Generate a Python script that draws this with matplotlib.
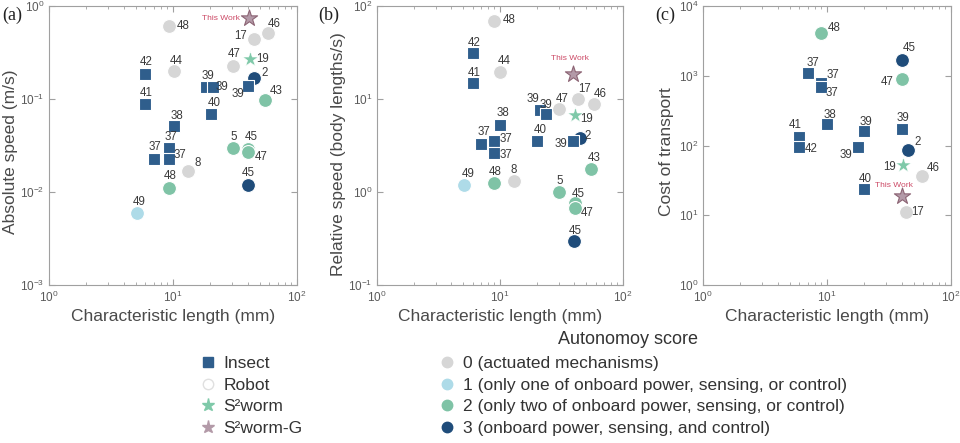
import matplotlib
matplotlib.use("Agg")
import matplotlib.pyplot as plt
from matplotlib.lines import Line2D

plt.rcParams['font.family'] = ['Liberation Sans', 'DejaVu Sans']
plt.rcParams['mathtext.fontset'] = 'custom'
plt.rcParams['mathtext.rm'] = 'Liberation Sans'
plt.rcParams['mathtext.it'] = 'Liberation Sans:italic'

# kinds: i = insect, r = robot (circle), w = S2worm, g = S2worm-G
# score: autonomy score for robots (0..3), -1 otherwise

# ---- (a) absolute speed ----
a_x = [9.2, 41, 58, 44.7, 30.2, 41.5, 6.0, 10.2, 45.2, 18.4, 21.2, 40,
       55.5, 6.0, 20.2, 10.1, 9.2, 7.05, 9.2, 30.2, 40.3, 40.3, 13.2, 40, 9.2, 5.1]
a_y = [0.61, 0.74, 0.51, 0.44, 0.228, 0.267, 0.186, 0.20, 0.17, 0.136, 0.136, 0.138,
       0.098, 0.088, 0.069, 0.051, 0.030, 0.0228, 0.0228, 0.030, 0.029, 0.027, 0.0169,
       0.0119, 0.011, 0.0059]
a_kind = ['r', 'g', 'r', 'r', 'r', 'w', 'i', 'r', 'r', 'i', 'i', 'i',
          'r', 'i', 'i', 'i', 'i', 'i', 'i', 'r', 'r', 'r', 'r', 'r', 'r', 'r']
a_score = [0, -1, 0, 0, 0, -1, -1, 0, 3, -1, -1, -1,
           2, -1, -1, -1, -1, -1, -1, 2, 2, 2, 0, 3, 2, 1]
a_ref = ['48', 'This Work', '46', '17', '47', '19', '42', '44', '2', '39', '39', '39',
         '43', '41', '40', '38', '37', '37', '37', '5', '45', '47', '8', '45', '48', '49']

# ---- (b) relative speed ----
b_x = [9.0, 6.0, 10, 39.3, 6.0, 43.2, 57.8, 30.1, 21, 23.5, 40.6, 10, 45, 39.3,
       20.1, 7.0, 9.0, 9.0, 55.4, 5.1, 9.0, 13, 30.1, 40.6, 40.6, 40]
b_y = [69, 31, 19.7, 18.6, 14.7, 10, 8.8, 7.8, 7.7, 6.9, 6.7, 5.2, 3.8, 3.5,
       3.5, 3.3, 3.5, 2.6, 1.77, 1.19, 1.24, 1.31, 1.0, 0.77, 0.68, 0.30]
b_kind = ['r', 'i', 'r', 'g', 'i', 'r', 'r', 'r', 'i', 'i', 'w', 'i', 'r', 'i',
          'i', 'i', 'i', 'i', 'r', 'r', 'r', 'r', 'r', 'r', 'r', 'r']
b_score = [0, -1, 0, -1, -1, 0, 0, 0, -1, -1, -1, -1, 3, -1,
           -1, -1, -1, -1, 2, 1, 2, 0, 2, 2, 2, 3]
b_ref = ['48', '42', '44', 'This Work', '41', '17', '46', '47', '39', '39', '19', '38', '2', '39',
         '40', '37', '37', '37', '43', '49', '48', '8', '5', '45', '47', '45']

# ---- (c) cost of transport ----
c_x = [9.0, 40, 7.0, 40, 9.0, 9.0, 10, 20, 40, 6.0, 6.0, 17.9, 45.3, 40.8, 58, 20, 40, 43.4]
c_y = [4050, 1660, 1080, 885, 790, 680, 205, 161, 170, 132, 95, 95, 85, 53, 36, 23.9, 19, 11.2]
c_kind = ['r', 'r', 'i', 'r', 'i', 'i', 'i', 'i', 'i', 'i', 'i', 'i', 'r', 'w', 'r', 'i', 'g', 'r']
c_score = [2, 3, -1, 2, -1, -1, -1, -1, -1, -1, -1, -1, 3, -1, 0, -1, -1, 0]
c_ref = ['48', '45', '37', '47', '37', '37', '38', '39', '39', '41', '42', '39', '2', '19',
         '46', '40', 'This Work', '17']

# label offsets (pixels) from each point
a_off = [(15, 0), (-28, 0), (7, 9), (-13, 3), (2, 12), (13, 0), (1, 12), (2, 10), (10, 5),
         (2, 11), (8, 0), (-10, -8), (11, 9), (1, 11), (3, 11), (3, 10), (2, 11), (1, 12),
         (11, 4), (1, 11), (3, 12), (13, -5), (10, 8), (1, 12), (2, 12), (2, 11)]
b_off = [(15, 1), (1, 10), (4, 11), (-3, 15), (1, 10), (6, 10), (7, 10), (3, 10), (-7, 11),
         (0, 9), (12, -4), (3, 12), (7, 2), (-12, -3), (3, 11), (3, 12), (12, 2), (12, -2),
         (3, 11), (4, 11), (1, 11), (0, 11), (1, 11), (3, 9), (12, -5), (1, 10)]
c_off = [(13, 5), (8, 12), (5, 10), (-14, -3), (12, 8), (11, -6), (3, 9), (2, 9), (1, 11),
         (-4, 12), (12, -2), (-12, -8), (9, 8), (-13, -2), (12, 8), (1, 10), (-8, 10), (11, 0)]

score_colors = {0: '#d6d6d6', 1: '#aedbe8', 2: '#7fc3a6', 3: '#1f4c7a'}
insect_color = '#2f5e8c'
worm_color = '#7fc9a9'
wormg_color = '#b39aa8'
label_color = '#3a3a3a'
text_color = '#4a4a4a'
tw_color = '#cc4a66'
spine_color = '#a0a0a0'
fs = 12.5


def draw_panel(ax, xs, ys, kinds, scores, refs, offs):
    for x, y, k, s, r, o in zip(xs, ys, kinds, scores, refs, offs):
        if k == 'i':
            ax.scatter(x, y, marker='s', s=68, color=insect_color, edgecolors='white',
                       linewidths=0.8, zorder=3)
        elif k == 'r':
            ax.scatter(x, y, marker='o', s=100, color=score_colors[s], edgecolors='white',
                       linewidths=0.8, zorder=3)
        elif k == 'w':
            ax.scatter(x, y, marker='*', s=135, color=worm_color, edgecolors='white',
                       linewidths=0.4, zorder=4)
        else:
            ax.scatter(x, y, marker='*', s=150, color=wormg_color, edgecolors='#8c6474',
                       linewidths=0.8, zorder=4)
        if r == 'This Work':
            ax.annotate(r, (x, y), xytext=o, textcoords='offset pixels', ha='center',
                        va='center', fontsize=6, color=tw_color, zorder=5)
        else:
            ax.annotate(r, (x, y), xytext=o, textcoords='offset pixels', ha='center',
                        va='center', fontsize=8.3, color=label_color, zorder=5)


def style_axes(ax, ylim):
    ax.set_xscale('log')
    ax.set_yscale('log')
    ax.set_xlim(1, 100)
    ax.set_ylim(*ylim)
    for sp in ax.spines.values():
        sp.set_color(spine_color)
        sp.set_linewidth(0.8)
    ax.tick_params(which='both', direction='in', top=True, right=True, color=spine_color,
                   labelcolor='#5a5a5a', labelsize=8.5)
    ax.tick_params(which='major', length=4)
    ax.tick_params(which='minor', length=2)
    ax.tick_params(axis='y', which='minor', left=False, right=False)


fig = plt.figure(figsize=(9.6, 4.43), dpi=100)
h = 279 / 443
bot = 1 - 285 / 443
ax1 = fig.add_axes([49 / 960, bot, 248 / 960, h])
ax2 = fig.add_axes([377 / 960, bot, 246 / 960, h])
ax3 = fig.add_axes([703 / 960, bot, 248 / 960, h])

draw_panel(ax1, a_x, a_y, a_kind, a_score, a_ref, a_off)
draw_panel(ax2, b_x, b_y, b_kind, b_score, b_ref, b_off)
draw_panel(ax3, c_x, c_y, c_kind, c_score, c_ref, c_off)

style_axes(ax1, (1e-3, 1))
style_axes(ax2, (1e-1, 1e2))
style_axes(ax3, (1, 1e4))

ylabels = ['Absolute speed (m/s)', 'Relative speed (body lengths/s)', 'Cost of transport']
ylx = [-0.125, -0.126, -0.117]
yly = [0.477, 0.47, 0.477]
for ax, lab, lx, ly in zip([ax1, ax2, ax3], ylabels, ylx, yly):
    ax.set_ylabel(lab, fontsize=fs, color=text_color)
    ax.yaxis.set_label_coords(lx, ly)
    ax.set_xlabel('Characteristic length (mm)', fontsize=fs, color=text_color)
    ax.xaxis.set_label_coords(0.5, -0.085)

fig.text(0.002, 0.955, '(a)', fontsize=13, family='Liberation Serif', color='#222222')
fig.text(0.332, 0.955, '(b)', fontsize=13, family='Liberation Serif', color='#222222')
fig.text(0.683, 0.955, '(c)', fontsize=13, family='Liberation Serif', color='#222222')

# legends
kind_handles = [
    Line2D([], [], linestyle='none', marker='s', markersize=7, color=insect_color),
    Line2D([], [], linestyle='none', marker='o', markersize=7.5, markerfacecolor='white',
           markeredgecolor='#e0e0e0'),
    Line2D([], [], linestyle='none', marker='*', markersize=9.5, color=worm_color),
    Line2D([], [], linestyle='none', marker='*', markersize=9.5, color=wormg_color),
]
kind_labels = ['Insect', 'Robot', 'S\u00b2worm', 'S\u00b2worm-G']
score_handles = [Line2D([], [], linestyle='none', marker='o', markersize=7.5, color=score_colors[k])
                 for k in range(4)]
score_labels = ['0 (actuated mechanisms)',
                '1 (only one of onboard power, sensing, or control)',
                '2 (only two of onboard power, sensing, or control)',
                '3 (onboard power, sensing, and control)']

leg_kw = dict(loc='center left', frameon=False, fontsize=fs, handletextpad=0.42,
              labelspacing=0.36, handlelength=1.0, borderaxespad=0, borderpad=0)
leg1 = fig.legend(kind_handles, kind_labels, bbox_to_anchor=(199 / 960, 1 - 396 / 443), **leg_kw)
leg2 = fig.legend(score_handles, score_labels, bbox_to_anchor=(438 / 960, 1 - 396 / 443), **leg_kw)
for leg in (leg1, leg2):
    for t in leg.get_texts():
        t.set_color('#333333')
fig.text(628 / 960, 1 - 340 / 443, 'Autonomoy score', fontsize=13, color='#333333',
         ha='center', va='center')

fig.savefig('out.png', dpi=100)
